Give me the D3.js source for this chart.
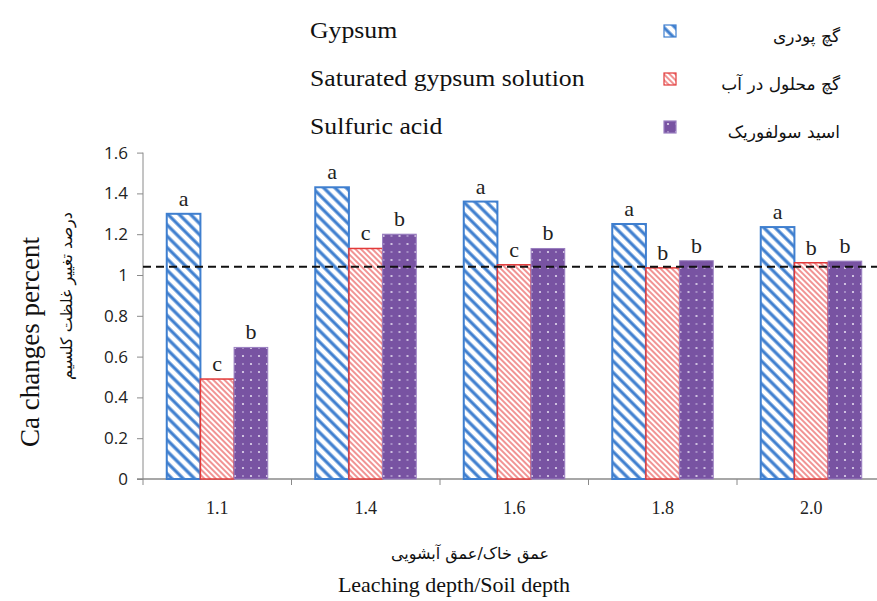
<!DOCTYPE html>
<html>
<head>
<meta charset="utf-8">
<script src="https://cdn.jsdelivr.net/npm/d3@7"></script>
<style>
  body { margin: 0; background: #fff; }
  svg { display: block; }
</style>
</head>
<body>
<div id="chart"></div>
<script>
const categories = ['1.1', '1.4', '1.6', '1.8', '2.0'];
const series = ['gypsum', 'saturated', 'sulfuric'];
const gypsum    = [1.30, 1.43, 1.36, 1.25, 1.235];
const saturated = [0.49, 1.13, 1.05, 1.035, 1.06];
const sulfuric  = [0.645, 1.20, 1.13, 1.07, 1.068];
const gypsumLetters    = ['a', 'a', 'a', 'a', 'a'];
const saturatedLetters = ['c', 'c', 'c', 'b', 'b'];
const sulfuricLetters  = ['b', 'b', 'b', 'b', 'b'];
const yTicks = [0, 0.2, 0.4, 0.6, 0.8, 1, 1.2, 1.4, 1.6];
const refLine = 1.04;
const legendEn = ['Gypsum', 'Saturated gypsum solution', 'Sulfuric acid'];
const legendFa = ['گچ پودری', 'گچ محلول در آب', 'اسید سولفوریک'];

const values = { gypsum, saturated, sulfuric };
const letters = { gypsum: gypsumLetters, saturated: saturatedLetters, sulfuric: sulfuricLetters };

const W = 877, H = 601;
const plotLeft = 143, plotBottom = 479, plotTop = 152.6;

const svg = d3.select('#chart').append('svg')
  .attr('width', W).attr('height', H);

const defs = svg.append('defs');

// blue wide stripes
const pBlue = defs.append('pattern')
  .attr('id', 'pBlue').attr('patternUnits', 'userSpaceOnUse')
  .attr('width', 8).attr('height', 8)
  .attr('patternTransform', 'rotate(-45)');
pBlue.append('rect').attr('width', 8).attr('height', 8).attr('fill', '#fff');
pBlue.append('line').attr('x1', 2).attr('y1', 0).attr('x2', 2).attr('y2', 8)
  .attr('stroke', '#3f7fcf').attr('stroke-width', 3.2);

// red thin stripes
const pRed = defs.append('pattern')
  .attr('id', 'pRed').attr('patternUnits', 'userSpaceOnUse')
  .attr('width', 4).attr('height', 4)
  .attr('patternTransform', 'rotate(-45)');
pRed.append('rect').attr('width', 4).attr('height', 4).attr('fill', '#fff');
pRed.append('line').attr('x1', 1).attr('y1', 0).attr('x2', 1).attr('y2', 4)
  .attr('stroke', '#ea5a5a').attr('stroke-width', 1.3);

// purple with white dots
const pPurple = defs.append('pattern')
  .attr('id', 'pPurple').attr('patternUnits', 'userSpaceOnUse')
  .attr('width', 16).attr('height', 16);
pPurple.append('rect').attr('width', 16).attr('height', 16).attr('fill', '#7853a2');
[[4, 4], [12, 12]].forEach(([cx, cy]) => {
  pPurple.append('circle').attr('cx', cx).attr('cy', cy).attr('r', 1.1).attr('fill', '#e4dcef');
});
[[12, 4], [4, 12]].forEach(([cx, cy]) => {
  pPurple.append('circle').attr('cx', cx).attr('cy', cy).attr('r', 0.9).attr('fill', '#b9a6d3');
});

const fills = { gypsum: 'url(#pBlue)', saturated: 'url(#pRed)', sulfuric: 'url(#pPurple)' };
const strokes = { gypsum: '#3f7fcf', saturated: '#e23a3a', sulfuric: '#9a7fc0' };
const strokeW = { gypsum: 2, saturated: 1.5, sulfuric: 1 };

const x0 = d3.scaleBand().domain(categories).range([plotLeft, plotLeft + 5 * 148.5]);
const gw = 101;
const x1 = d3.scaleBand().domain(series)
  .range([(x0.bandwidth() - gw) / 2, (x0.bandwidth() + gw) / 2]);
const y = d3.scaleLinear().domain([0, 1.6]).range([plotBottom, plotTop]);

// y axis
const yAxis = d3.axisLeft(y).tickValues(yTicks).tickSize(6)
  .tickFormat(d => d === 0 || d === 1 ? String(d) : d3.format('.1f')(d));
const gy = svg.append('g').attr('transform', `translate(${plotLeft},0)`).call(yAxis);
gy.select('.domain').attr('stroke', '#8a8a8a').attr('d', `M0,${plotTop}V${plotBottom}`);
gy.selectAll('.tick line').attr('stroke', '#8a8a8a');
gy.selectAll('.tick text').attr('x', -15)
  .style('font-family', '"Open Sans", sans-serif').style('font-size', '17px').attr('fill', '#222');

// x axis
const gx = svg.append('g').attr('transform', `translate(0,${plotBottom})`);
gx.append('line').attr('x1', plotLeft - 6).attr('x2', W).attr('y1', 0).attr('y2', 0)
  .attr('stroke', '#8a8a8a').attr('stroke-width', 1.3);
const bounds = categories.map(c => x0(c)).concat([x0(categories[4]) + x0.bandwidth()]);
gx.selectAll('line.tk').data(bounds).join('line').attr('class', 'tk')
  .attr('x1', d => d).attr('x2', d => d).attr('y1', 0).attr('y2', 6)
  .attr('stroke', '#8a8a8a');
gx.selectAll('text').data(categories).join('text')
  .attr('x', d => x0(d) + x0.bandwidth() / 2).attr('y', 35)
  .attr('text-anchor', 'middle')
  .style('font-family', '"Liberation Serif", serif').style('font-size', '18px')
  .attr('fill', '#222').text(d => d);

// bars
const groups = svg.selectAll('g.grp').data(categories).join('g').attr('class', 'grp')
  .attr('transform', d => `translate(${x0(d)},0)`);

series.forEach(s => {
  groups.append('rect')
    .attr('x', x1(s)).attr('width', x1.bandwidth())
    .attr('y', (d, i) => y(values[s][i]))
    .attr('height', (d, i) => plotBottom - y(values[s][i]))
    .attr('fill', fills[s])
    .attr('stroke', strokes[s]).attr('stroke-width', strokeW[s]);
  groups.append('text')
    .attr('x', x1(s) + x1.bandwidth() / 2)
    .attr('y', (d, i) => y(values[s][i]) - 8)
    .attr('text-anchor', 'middle')
    .style('font-family', '"Liberation Serif", serif').style('font-size', '22px')
    .attr('fill', '#222')
    .text((d, i) => letters[s][i]);
});

// reference dashed line
svg.append('line')
  .attr('x1', plotLeft).attr('x2', W).attr('y1', y(refLine)).attr('y2', y(refLine))
  .attr('stroke', '#111').attr('stroke-width', 2).attr('stroke-dasharray', '8,5');

// legend
const legY = [31, 79, 127];
legendEn.forEach((t, i) => {
  svg.append('text').attr('transform', `translate(310,${legY[i] + 7}) scale(1.12,1)`)
    .style('font-family', '"Liberation Serif", serif').style('font-size', '23px')
    .attr('fill', '#111').text(t);
  svg.append('rect').attr('x', 664).attr('y', legY[i] - 6).attr('width', 12).attr('height', 12)
    .attr('fill', fills[series[i]]).attr('stroke', strokes[series[i]]).attr('stroke-width', 1.2);
  svg.append('text').attr('x', 840).attr('y', legY[i] + 11)
    .attr('text-anchor', 'end')
    .style('font-family', '"DejaVu Sans", sans-serif').style('font-size', '17px')
    .attr('fill', '#111').text(legendFa[i]);
});

// y titles
svg.append('text').attr('transform', 'translate(39,342) rotate(-90)')
  .attr('text-anchor', 'middle')
  .style('font-family', '"Liberation Serif", serif').style('font-size', '27px')
  .attr('fill', '#111').text('Ca changes percent');
svg.append('text').attr('transform', 'translate(72,296) rotate(-90)')
  .attr('text-anchor', 'middle')
  .style('font-family', '"DejaVu Sans", sans-serif').style('font-size', '16px')
  .attr('fill', '#111').text('درصد تغییر غلظت کلسیم');

// x titles
svg.append('text').attr('x', 470).attr('y', 559)
  .attr('text-anchor', 'middle')
  .style('font-family', '"DejaVu Sans", sans-serif').style('font-size', '16px')
  .attr('fill', '#111').text('عمق خاک/عمق آبشویی');
svg.append('text').attr('x', 454).attr('y', 592)
  .attr('text-anchor', 'middle')
  .style('font-family', '"Liberation Serif", serif').style('font-size', '22px')
  .attr('fill', '#111').text('Leaching depth/Soil depth');
</script>
</body>
</html>
